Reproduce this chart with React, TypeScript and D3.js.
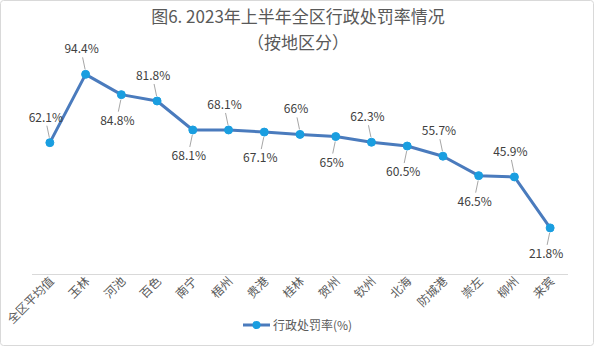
import React from "react";
import * as d3 from "d3";

const categories = ["全区平均值", "玉林", "河池", "百色", "南宁", "梧州", "贵港", "桂林", "贺州", "钦州", "北海", "防城港", "崇左", "柳州", "来宾"];
const values = [62.1, 94.4, 84.8, 81.8, 68.1, 68.1, 67.1, 66, 65, 62.3, 60.5, 55.7, 46.5, 45.9, 21.8];
const labelTexts = ["62.1%", "94.4%", "84.8%", "81.8%", "68.1%", "68.1%", "67.1%", "66%", "65%", "62.3%", "60.5%", "55.7%", "46.5%", "45.9%", "21.8%"];
const titleLines = ["图6. 2023年上半年全区行政处罚率情况", "（按地区分）"];
const seriesName = "行政处罚率(%)";

const W = 594;
const H = 346;
const FONT = "'Noto Sans CJK SC', 'Noto Sans', sans-serif";

export default function App() {
  const x = d3.scaleBand<string>().domain(categories).range([32, 568]);
  const y = d3.scaleLinear().domain([0, 100]).range([274, 62.5]);
  const cx = (c: string) => (x(c) as number) + x.bandwidth() / 2;
  const line = d3
    .line<number>()
    .x((_, i) => cx(categories[i]))
    .y((d) => y(d));

  return (
    <svg width={W} height={H} style={{ position: "absolute", left: 0, top: 0, display: "block", background: "#fff" }} fontFamily={FONT}>
      <rect x={0.5} y={0.5} width={W - 1} height={H - 1} rx={3} fill="#fff" stroke="#d9d9d9" />
      {titleLines.map((t, i) => (
        <text key={i} x={298} y={23 + i * 26} textAnchor="middle" fontSize={17} fill="#595959">
          {t}
        </text>
      ))}
      <line x1={32} x2={568} y1={274.5} y2={274.5} stroke="#d9d9d9" strokeWidth={1} />
      {categories.map((c) => (
        <text
          key={c}
          transform={`translate(${cx(c) + 5},${282}) rotate(-45)`}
          textAnchor="end"
          fontSize={12}
          fill="#595959"
        >
          {c}
        </text>
      ))}
      <path d={line(values) || ""} fill="none" stroke="#4a7bbd" strokeWidth={3} strokeLinejoin="round" />
      {values.map((v, i) => {
        const px = cx(categories[i]);
        const py = y(v);
        const above = i === 0 || i % 2 === 1;
        const dir = above ? -1 : 1;
        return (
          <g key={i}>
            <line x1={px - 0.5} y1={py + dir * 5} x2={px - 3} y2={py + dir * 17} stroke="#a6a6a6" strokeWidth={1} />
            <text x={px - 4} y={above ? py - 21 : py + 30} textAnchor="middle" fontSize={12} fill="#404040">
              {labelTexts[i]}
            </text>
          </g>
        );
      })}
      {values.map((v, i) => (
        <circle key={i} cx={cx(categories[i])} cy={y(v)} r={4} fill="#1a9ee0" stroke="#1a9ee0" />
      ))}
      <g transform="translate(0,325)">
        <line x1={243} x2={270} y1={0} y2={0} stroke="#4a7bbd" strokeWidth={3} />
        <circle cx={256.5} cy={0} r={4} fill="#1a9ee0" />
        <text x={273} y={4.5} fontSize={12} fill="#595959">
          {seriesName}
        </text>
      </g>
    </svg>
  );
}
